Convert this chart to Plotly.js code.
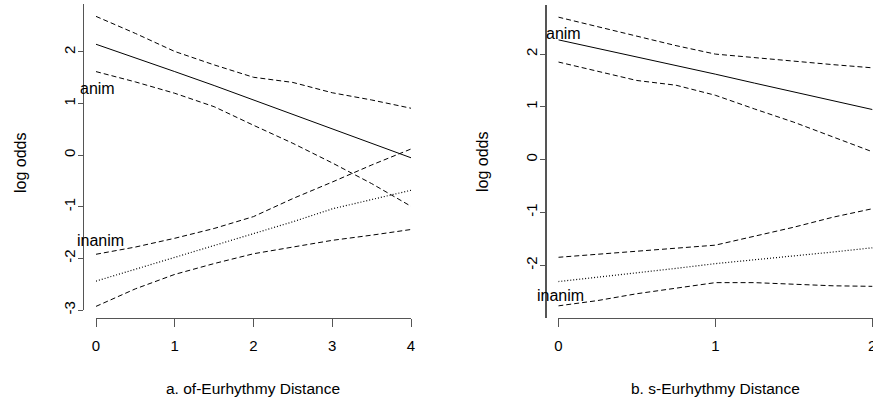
<!DOCTYPE html>
<html>
<head>
<meta charset="utf-8">
<script src="https://cdn.plot.ly/plotly-3.0.1.min.js"></script>
<style>html,body{margin:0;padding:0;background:#fff;}#chart{width:873px;height:399px;}</style>
</head>
<body>
<div id="chart"></div>
<script>
// Panel a: of-Eurhythmy Distance
const aX = [0, 0.5, 1, 1.5, 2, 2.5, 3, 3.5, 4];
const aAnimFit = [2.15, 1.89, 1.62, 1.35, 1.07, 0.80, 0.52, 0.24, -0.05];
const aAnimUpper = [2.69, 2.36, 2.01, 1.75, 1.51, 1.41, 1.21, 1.07, 0.91];
const aAnimLower = [1.62, 1.42, 1.20, 0.94, 0.58, 0.23, -0.15, -0.55, -0.99];
const aInanimFit = [-2.44, -2.21, -1.99, -1.76, -1.53, -1.29, -1.04, -0.86, -0.68];
const aInanimUpper = [-1.92, -1.78, -1.61, -1.42, -1.19, -0.84, -0.52, -0.19, 0.12];
const aInanimLower = [-2.93, -2.59, -2.31, -2.10, -1.91, -1.78, -1.65, -1.55, -1.44];

// Panel b: s-Eurhythmy Distance
const bX = [0, 0.25, 0.5, 0.75, 1, 1.25, 1.5, 1.75, 2];
const bAnimFit = [2.27, 2.11, 1.94, 1.78, 1.62, 1.45, 1.28, 1.12, 0.95];
const bAnimUpper = [2.70, 2.52, 2.33, 2.16, 2.00, 1.93, 1.86, 1.80, 1.74];
const bAnimLower = [1.85, 1.68, 1.50, 1.41, 1.22, 0.96, 0.71, 0.43, 0.15];
const bInanimFit = [-2.31, -2.23, -2.14, -2.06, -1.97, -1.90, -1.82, -1.75, -1.67];
const bInanimUpper = [-1.85, -1.79, -1.73, -1.68, -1.62, -1.45, -1.28, -1.09, -0.93];
const bInanimLower = [-2.77, -2.67, -2.54, -2.43, -2.33, -2.33, -2.36, -2.39, -2.40];

const labels = ["anim", "inanim"];
const aLabelX = [0.013, 0.06];
const aLabelY = [1.30, -1.66];
const bLabelX = [0.036, 0.017];
const bLabelY = [2.39, -2.58];

const aTicksX = [0, 1, 2, 3, 4];
const aTickTextX = ["0", "1", "2", "3", "4"];
const aTicksY = [-3, -2, -1, 0, 1, 2];
const aTickTextY = ["-3", "-2", "-1", "0", "1", "2"];
const bTicksX = [0, 1, 2];
const bTickTextX = ["0", "1", "2"];
const bTicksY = [-2, -1, 0, 1, 2];
const bTickTextY = ["-2", "-1", "0", "1", "2"];

const titles = {xa: "a. of-Eurhythmy Distance", xb: "b. s-Eurhythmy Distance", y: "log odds"};

const W = 873, H = 399;
const px = v => v / W;
const py = v => 1 - v / H;

const solid = {color: "#000", width: 1, dash: "solid"};
const dashed = {color: "#000", width: 1, dash: "5px,3px"};
const dotted = {color: "#000", width: 1.2, dash: "1px,2px"};

function tr(x, y, line, xa, ya) {
  return {x: x, y: y, type: "scatter", mode: "lines", line: line, xaxis: xa, yaxis: ya, hoverinfo: "skip", showlegend: false};
}

const data = [
  tr(aX, aAnimUpper, dashed, "x", "y"),
  tr(aX, aAnimFit, solid, "x", "y"),
  tr(aX, aAnimLower, dashed, "x", "y"),
  tr(aX, aInanimUpper, dashed, "x", "y"),
  tr(aX, aInanimFit, dotted, "x", "y"),
  tr(aX, aInanimLower, dashed, "x", "y"),
  tr(bX, bAnimUpper, dashed, "x2", "y2"),
  tr(bX, bAnimFit, solid, "x2", "y2"),
  tr(bX, bAnimLower, dashed, "x2", "y2"),
  tr(bX, bInanimUpper, dashed, "x2", "y2"),
  tr(bX, bInanimFit, dotted, "x2", "y2"),
  tr(bX, bInanimLower, dashed, "x2", "y2")
];

const fam = "Arial, 'Liberation Sans', sans-serif";
const axisCommon = {
  showgrid: false, zeroline: false, showline: true, linecolor: "#555", linewidth: 1.3,
  ticks: "outside", tickcolor: "#555", tickwidth: 1, tickmode: "array",
  tickfont: {family: fam, size: 15, color: "#000"}, fixedrange: true, ticklabeloverflow: "allow"
};

function ann(text, x, y, xref, yref, size, angle) {
  return {text: text, x: x, y: y, xref: xref, yref: yref, showarrow: false, xanchor: "center", yanchor: "middle",
          textangle: angle || 0, font: {family: fam, size: size, color: "#000"}};
}

const layout = {
  width: W, height: H,
  margin: {l: 0, r: 0, t: 0, b: 0},
  paper_bgcolor: "#fff", plot_bgcolor: "rgba(0,0,0,0)",
  font: {family: fam, size: 15, color: "#000"}, showlegend: false,
  xaxis: Object.assign({}, axisCommon, {domain: [px(96), px(411)], range: [0, 4], tickvals: aTicksX, ticktext: aTickTextX, ticklen: 8, anchor: "free", position: py(318), ticklabelstandoff: 6}),
  yaxis: Object.assign({}, axisCommon, {domain: [py(310), py(4)], range: [-3, 2.93], tickvals: aTicksY, ticktext: aTickTextY, ticklen: 5, anchor: "free", position: px(83), tickangle: -90, ticklabelstandoff: -3}),
  xaxis2: Object.assign({}, axisCommon, {domain: [px(558.3), 1], range: [0, 2.0045], tickvals: bTicksX, ticktext: bTickTextX, ticklen: 8, anchor: "free", position: py(318), ticklabelstandoff: 6}),
  yaxis2: Object.assign({}, axisCommon, {domain: [py(318), py(5)], range: [-3.0, 2.93], tickvals: bTicksY, ticktext: bTickTextY, ticklen: 5, anchor: "free", position: px(545.3), tickangle: -90, ticklabelstandoff: -3}),
  annotations: [
    ann(labels[0], aLabelX[0], aLabelY[0], "x", "y", 16),
    ann(labels[1], aLabelX[1], aLabelY[1], "x", "y", 16),
    ann(labels[0], bLabelX[0], bLabelY[0], "x2", "y2", 16),
    ann(labels[1], bLabelX[1], bLabelY[1], "x2", "y2", 16),
    ann(titles.xa, px(253), py(388), "paper", "paper", 15.5),
    ann(titles.xb, px(715), py(388), "paper", "paper", 15.5),
    ann(titles.y, px(20), py(163), "paper", "paper", 16, -90),
    ann(titles.y, px(482), py(162), "paper", "paper", 16, -90)
  ]
};

Plotly.newPlot("chart", data, layout, {displayModeBar: false, staticPlot: true});
</script>
</body>
</html>
